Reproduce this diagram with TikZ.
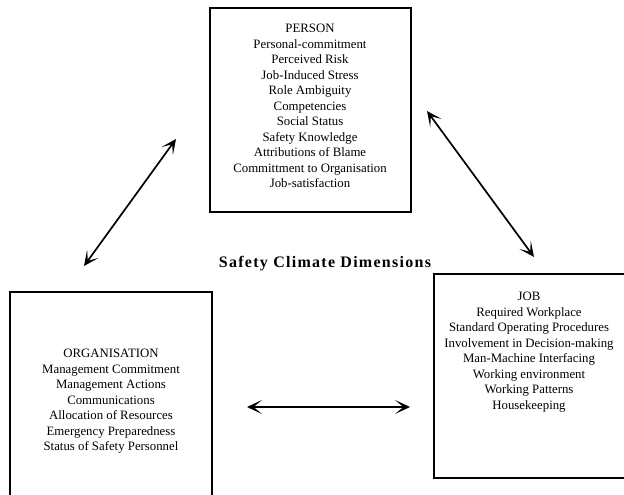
\documentclass[tikz,border=0pt]{standalone}
\usepackage{fontspec}
\setmainfont{Liberation Serif}
\usetikzlibrary{arrows.meta}
\begin{document}
\begin{tikzpicture}[x=1pt,y=-1pt,
  dimbox/.style={draw, line width=1.7pt, rectangle, inner sep=0pt},
  itemlist/.style={align=center, font=\fontsize{12.8}{15.5}\selectfont, inner sep=0pt},
  tip/.tip={Stealth[length=15pt,width=14pt,inset=8.5pt]},
  link/.style={line width=1.7pt, tip-tip}]
  \useasboundingbox (0,0) rectangle (624,495);
  \begin{scope}
    \clip (0,0) rectangle (624,495);
    % the three boxes
    \draw[dimbox] (210,8) rectangle (411,212);
    \draw[dimbox] (10,292) rectangle (212,510);
    \draw[dimbox] (434,274) rectangle (640,478);
  \end{scope}
  \node[minimum width=201pt, minimum height=204pt] (person) at (310.5,110) {};
  \node[minimum width=202pt, minimum height=218pt] (org) at (111,401) {};
  \node[minimum width=206pt, minimum height=204pt] (job) at (537,376) {};

  \node[itemlist] (persontext) at (310,106) {PERSON\\Personal-commitment\\Perceived Risk\\Job-Induced Stress\\Role Ambiguity\\Competencies\\Social Status\\Safety Knowledge\\Attributions of Blame\\Committment to Organisation\\Job-satisfaction};
  \node[itemlist] (orgtext) at (111,401.5) {ORGANISATION\\Management Commitment\\Management Actions\\Communications\\Allocation of Resources\\Emergency Preparedness\\Status of Safety Personnel};
  \node[itemlist] (jobtext) at (529,352) {JOB\\Required Workplace\\Standard Operating Procedures\\Involvement in Decision-making\\Man-Machine Interfacing\\Working environment\\Working Patterns\\Housekeeping};

  \node[font=\fontsize{16}{18}\selectfont\bfseries\addfontfeature{LetterSpace=8}, inner sep=0pt] (title) at (325,264) {Safety Climate Dimensions};

  % connector end points
  \coordinate (op1) at (84,266);
  \coordinate (op2) at (176,139);
  \coordinate (pj1) at (427,111);
  \coordinate (pj2) at (534,257);
  \coordinate (oj1) at (247,407);
  \coordinate (oj2) at (410,407);
  \draw[link] (op1) -- (op2);
  \draw[link] (pj1) -- (pj2);
  \draw[link] (oj1) -- (oj2);
\end{tikzpicture}
\end{document}
